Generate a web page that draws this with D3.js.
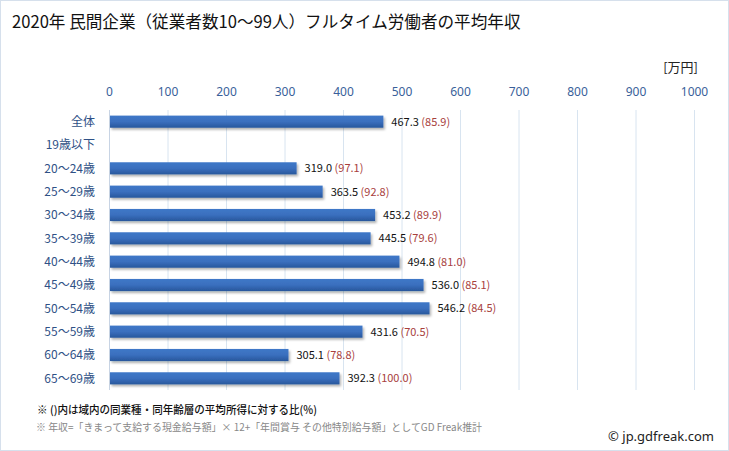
<!DOCTYPE html>
<html>
<head>
<meta charset="utf-8">
<script src="https://cdn.jsdelivr.net/npm/d3@7"></script>
<style>
  body { margin: 0; background: #fff; }
  text { font-family: "Noto Sans CJK JP", "Noto Sans", sans-serif; }
</style>
</head>
<body>
<svg id="chart"></svg>
<script>
let categories = ["全体", "19歳以下", "20〜24歳", "25〜29歳", "30〜34歳", "35〜39歳", "40〜44歳",
                  "45〜49歳", "50〜54歳", "55〜59歳", "60〜64歳", "65〜69歳"];
let values = [467.3, null, 319.0, 363.5, 453.2, 445.5, 494.8, 536.0, 546.2, 431.6, 305.1, 392.3];
let ratios = [85.9, null, 97.1, 92.8, 89.9, 79.6, 81.0, 85.1, 84.5, 70.5, 78.8, 100.0];
let ticks = [0, 100, 200, 300, 400, 500, 600, 700, 800, 900, 1000];

let W = 729, H = 451;
let margin = {top: 110, left: 109, right: 35, bottom: 61};
let width = W - margin.left - margin.right,
    height = H - margin.top - margin.bottom;

let svg = d3.select("#chart").attr("width", W).attr("height", H);

// gradient for bars
let defs = svg.append("defs");
let grad = defs.append("linearGradient").attr("id", "barGrad")
  .attr("x1", 0).attr("y1", 0).attr("x2", 0).attr("y2", 1);
grad.append("stop").attr("offset", "0%").attr("stop-color", "#3f78c8");
grad.append("stop").attr("offset", "50%").attr("stop-color", "#3a6fbe");
grad.append("stop").attr("offset", "100%").attr("stop-color", "#28579c");
let shadow = defs.append("filter").attr("id", "shadow").attr("x", "-5%").attr("y", "-20%")
  .attr("width", "110%").attr("height", "160%");
shadow.append("feDropShadow").attr("dx", 1.5).attr("dy", 2).attr("stdDeviation", 1.2)
  .attr("flood-color", "#000").attr("flood-opacity", 0.3);

// outer border
svg.append("rect").attr("x", 0.5).attr("y", 0.5).attr("width", W - 1).attr("height", H - 1)
  .attr("fill", "none").attr("stroke", "#d6e0ec");

svg.append("text").attr("x", 12).attr("y", 28)
  .style("font-size", "16.6px").attr("fill", "#111")
  .text("2020年 民間企業（従業者数10〜99人）フルタイム労働者の平均年収");

svg.append("text").attr("x", 698).attr("y", 72).attr("text-anchor", "end")
  .style("font-size", "13px").attr("fill", "#222").text("[万円]");

let g = svg.append("g").attr("transform", "translate(" + margin.left + "," + margin.top + ")");

let x = d3.scaleLinear().domain([0, 1000]).range([0, 585]);
let y = d3.scaleBand().domain(categories).range([0, height]).paddingInner(0.48).paddingOuter(0.24);

// gridlines
g.append("g").selectAll("line").data(ticks).join("line")
  .attr("x1", d => x(d) + 0.5).attr("x2", d => x(d) + 0.5)
  .attr("y1", 0).attr("y2", height)
  .attr("stroke", d => d === 0 ? "#c8d4e4" : "#d8e4f0").attr("stroke-width", 1);

// top axis labels
let xAxis = d3.axisTop(x).tickValues(ticks).tickFormat(d3.format("d")).tickSize(0).tickPadding(0);
let ax = g.append("g").attr("transform", "translate(0,-14)").call(xAxis);
ax.select(".domain").remove();
ax.selectAll("text").style("font-size", "12px").attr("fill", "#3a5f9a")
  .style("font-family", "\"Noto Sans\", sans-serif");

// category labels
g.append("g").selectAll("text").data(categories).join("text")
  .attr("x", -14).attr("y", d => y(d) + y.bandwidth() / 2).attr("dy", "0.36em")
  .attr("text-anchor", "end").style("font-size", "12px").attr("fill", "#2f5186")
  .text(d => d);

let rows = categories.map((c, i) => ({c: c, v: values[i], r: ratios[i]}));

g.append("g").selectAll("rect").data(rows.filter(d => d.v != null)).join("rect")
  .attr("x", x(0) + 1).attr("y", d => y(d.c))
  .attr("width", d => x(d.v) - x(0)).attr("height", y.bandwidth())
  .attr("fill", "url(#barGrad)").attr("filter", "url(#shadow)");

let lab = g.append("g").selectAll("text").data(rows.filter(d => d.v != null)).join("text")
  .attr("x", d => x(d.v) + 9).attr("y", d => y(d.c) + y.bandwidth() / 2).attr("dy", "0.36em")
  .style("font-size", "11px");
lab.append("tspan").attr("fill", "#111").text(d => d.v.toFixed(1));
lab.append("tspan").attr("fill", "#a8403c").text(d => " (" + d.r.toFixed(1) + ")");

// footnotes
svg.append("text").attr("x", 37).attr("y", 414).style("font-size", "11px").style("font-weight", "500")
  .attr("fill", "#111")
  .attr("textLength", 280).attr("lengthAdjust", "spacingAndGlyphs")
  .text("※ ()内は域内の同業種・同年齢層の平均所得に対する比(%)");
svg.append("text").attr("x", 36).attr("y", 431).style("font-size", "10px").attr("fill", "#888")
  .attr("textLength", 446).attr("lengthAdjust", "spacingAndGlyphs")
  .text("※ 年収=「きまって支給する現金給与額」× 12+「年間賞与 その他特別給与額」としてGD Freak推計");
svg.append("text").attr("x", 714).attr("y", 441).attr("text-anchor", "end")
  .style("font-size", "13px").attr("fill", "#222").style("font-family", "\"Noto Sans\", sans-serif")
  .text("© jp.gdfreak.com");
</script>
</body>
</html>
